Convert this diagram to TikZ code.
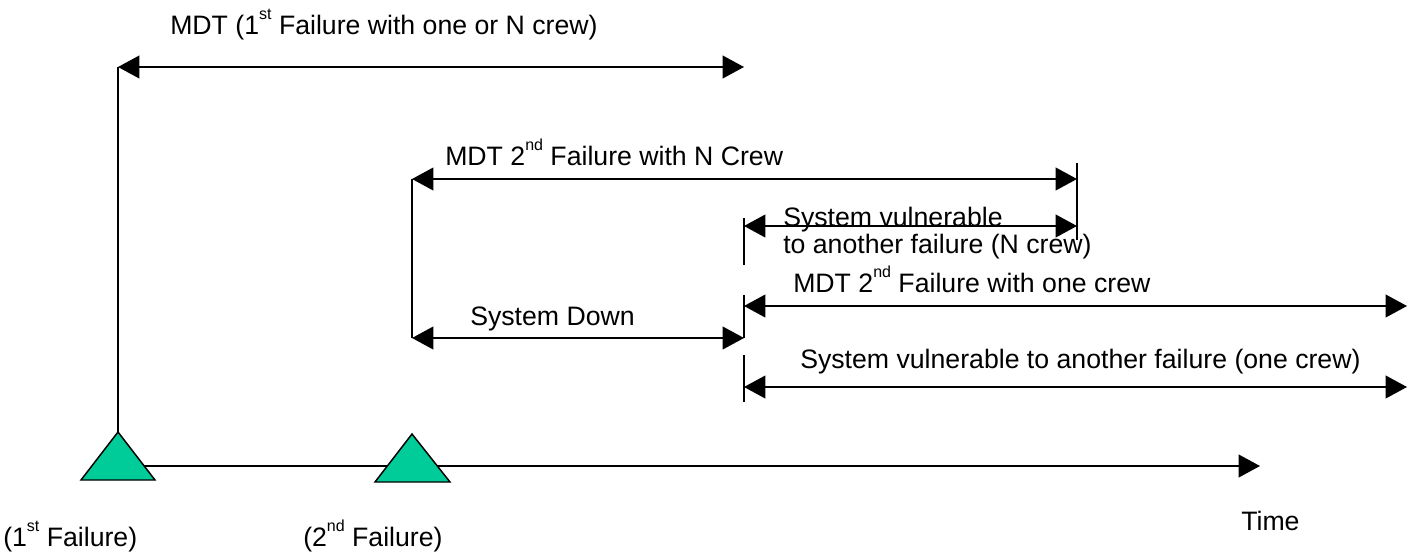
\documentclass[tikz,border=0pt]{standalone}
\usepackage{fontspec}
\setmainfont{Liberation Sans}
\usetikzlibrary{arrows.meta}
\definecolor{trigreen}{RGB}{0,204,153}
\tikzset{
  span/.style={line width=1.4pt,{Triangle[length=16pt,width=17pt]}-{Triangle[length=16pt,width=17pt]}},
  fwd/.style={line width=1.4pt,-{Triangle[length=16pt,width=17pt]}},
  tick/.style={line width=1.1pt},
  lbl/.style={anchor=base west,inner sep=0pt,font=\fontsize{20}{24}\selectfont},
  failmark/.style={fill=trigreen,draw=black,line width=1.1pt,line join=miter}
}
\newcommand{\supx}[1]{\raisebox{0.55em}{\fontsize{12}{12}\selectfont #1}}
\begin{document}
\begin{tikzpicture}[x=0.75pt,y=-0.75pt]
\useasboundingbox (0,0) rectangle (1417,557);
% coordinates
\coordinate (f1) at (118,432);
\coordinate (f2) at (412,434);
\coordinate (axs) at (118,466);
\coordinate (axe) at (1260,466);
\coordinate (a1l) at (118,67);
\coordinate (a1r) at (744,67);
\coordinate (a2l) at (412,179);
\coordinate (a2r) at (1077,179);
\coordinate (t2a) at (1077,163);
\coordinate (t2b) at (1077,240);
\coordinate (a3l) at (744,226);
\coordinate (a3r) at (1077,226);
\coordinate (t3a) at (744,218);
\coordinate (t3b) at (744,265);
\coordinate (a4l) at (744,306);
\coordinate (a4r) at (1407,306);
\coordinate (t4a) at (744,295);
\coordinate (sdl) at (412,338);
\coordinate (sdr) at (744,338);
\coordinate (a5l) at (744,387);
\coordinate (a5r) at (1407,387);
\coordinate (t5a) at (744,355);
\coordinate (t5b) at (744,402);
% time axis
\draw[fwd] (axs) -- (axe);
% triangles
\filldraw[failmark] (f1) -- (81,480) -- (155,480) -- cycle;
\filldraw[failmark] (f2) -- (375,482) -- (450,482) -- cycle;
% verticals and ticks
\draw[tick] (a1l) -- (f1);
\draw[tick] (a2l) -- (sdl);
\draw[tick] (t2a) -- (t2b);
\draw[tick] (t3a) -- (t3b);
\draw[tick] (t4a) -- (sdr);
\draw[tick] (t5a) -- (t5b);
% spans
\draw[span] (a1l) -- (a1r);
\draw[span] (a2l) -- (a2r);
\draw[span] (a3l) -- (a3r);
\draw[span] (a4l) -- (a4r);
\draw[span] (sdl) -- (sdr);
\draw[span] (a5l) -- (a5r);
% labels
\node[lbl] (l1) at (170,34) {MDT (1\supx{st} Failure with one or N crew)};
\node[lbl] (l2) at (445,165) {MDT 2\supx{nd} Failure with N Crew};
\node[lbl] (l3) at (783,226) {System vulnerable};
\node[lbl] (l3b) at (783,253) {to another failure (N crew)};
\node[lbl] (l4) at (793,292) {MDT 2\supx{nd} Failure with one crew};
\node[lbl] (l5) at (470,325) {System Down};
\node[lbl] (l6) at (800,368) {System vulnerable to another failure (one crew)};
\node[lbl] (l7) at (3,546) {(1\supx{st} Failure)};
\node[lbl] (l8) at (303,546) {(2\supx{nd} Failure)};
\node[lbl] (l9) at (1241,530) {Time};
\end{tikzpicture}
\end{document}
